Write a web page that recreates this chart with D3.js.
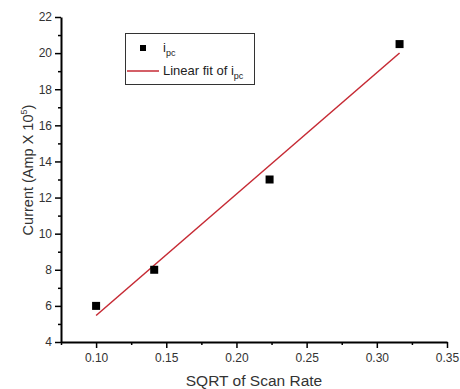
<!DOCTYPE html>
<html>
<head>
<meta charset="utf-8">
<script src="https://cdn.jsdelivr.net/npm/d3@7"></script>
<style>
  body { margin: 0; background: #fff; }
  svg { display: block; font-family: "Liberation Sans", Arial, sans-serif; }
</style>
</head>
<body>
<div id="chart"></div>
<script>
// scan rate data (sqrt) vs cathodic peak current
const sqrtRate = [0.1, 0.1414, 0.2236, 0.3162];
const ipc = [6, 8, 13, 20.5];
const xTicks = [0.10, 0.15, 0.20, 0.25, 0.30, 0.35];
const yTicks = [4, 6, 8, 10, 12, 14, 16, 18, 20, 22];

const width = 460, height = 389;
const margin = { left: 61, right: 13, top: 17, bottom: 47 };

const svg = d3.select('#chart').append('svg')
  .attr('width', width)
  .attr('height', height);

const x = d3.scaleLinear().domain([0.075, 0.35]).range([margin.left, width - margin.right]);
const y = d3.scaleLinear().domain([4, 22]).range([height - margin.bottom, margin.top]);

// least squares fit
const mx = d3.mean(sqrtRate), my = d3.mean(ipc);
const slope = d3.sum(sqrtRate, (v, i) => (v - mx) * (ipc[i] - my)) / d3.sum(sqrtRate, v => (v - mx) ** 2);
const icpt = my - slope * mx;
const fitX = d3.extent(sqrtRate);

// minor ticks first
const xMinor = d3.range(0.075, 0.3501, 0.025).filter(v => !xTicks.some(t => Math.abs(t - v) < 1e-6));
const yMinor = d3.range(5, 22, 2);

svg.append('g')
  .attr('transform', `translate(0,${height - margin.bottom})`)
  .call(d3.axisBottom(x).tickValues(xMinor).tickSize(3).tickFormat(''))
  .call(g => g.select('.domain').remove());
svg.append('g')
  .attr('transform', `translate(${margin.left},0)`)
  .call(d3.axisLeft(y).tickValues(yMinor).tickSize(3).tickFormat(''))
  .call(g => g.select('.domain').remove());

const xAxis = svg.append('g')
  .attr('transform', `translate(0,${height - margin.bottom})`)
  .call(d3.axisBottom(x).tickValues(xTicks).tickSize(6).tickSizeOuter(0).tickFormat(d3.format('.2f')));
const yAxis = svg.append('g')
  .attr('transform', `translate(${margin.left},0)`)
  .call(d3.axisLeft(y).tickValues(yTicks).tickSize(6).tickSizeOuter(0));

svg.selectAll('.domain').attr('stroke', '#000').attr('stroke-width', 2);
svg.selectAll('.tick line').attr('stroke', '#000').attr('stroke-width', 1.5);
xAxis.selectAll('text').attr('font-size', 12).attr('fill', '#333').attr('dy', '0.95em');
yAxis.selectAll('text').attr('font-size', 12).attr('fill', '#333');

// axis titles
svg.append('text')
  .attr('x', 254).attr('y', 386)
  .attr('text-anchor', 'middle')
  .attr('font-size', 15.5).attr('fill', '#333')
  .text('SQRT of Scan Rate');

const yt = svg.append('text')
  .attr('transform', 'translate(33,170) rotate(-90)')
  .attr('text-anchor', 'middle')
  .attr('font-size', 14.5).attr('fill', '#333');
yt.append('tspan').text('Current (Amp X 10');
yt.append('tspan').attr('font-size', 9).attr('dy', -6).text('5');
yt.append('tspan').attr('dy', 6).text(')');

// fit line
svg.append('line')
  .attr('x1', x(fitX[0])).attr('y1', y(slope * fitX[0] + icpt))
  .attr('x2', x(fitX[1])).attr('y2', y(slope * fitX[1] + icpt))
  .attr('stroke', '#c62a34').attr('stroke-width', 1.5);

// points
const s = 8;
svg.selectAll('rect.pt')
  .data(sqrtRate)
  .join('rect')
  .attr('class', 'pt')
  .attr('x', d => x(d) - s / 2)
  .attr('y', (d, i) => y(ipc[i]) - s / 2)
  .attr('width', s).attr('height', s)
  .attr('fill', '#000');

// legend
const lg = svg.append('g');
lg.append('rect')
  .attr('x', 125.5).attr('y', 33.5).attr('width', 129).attr('height', 51)
  .attr('fill', '#fff').attr('stroke', '#333').attr('stroke-width', 1);
lg.append('rect').attr('x', 140).attr('y', 45).attr('width', 6).attr('height', 6).attr('fill', '#000');
lg.append('line').attr('x1', 127).attr('x2', 159).attr('y1', 71).attr('y2', 71)
  .attr('stroke', '#c62a34').attr('stroke-width', 1.5);
const l1 = lg.append('text').attr('x', 163).attr('y', 52).attr('font-size', 13).attr('fill', '#222');
l1.append('tspan').text('i');
l1.append('tspan').attr('font-size', 9).attr('dy', 4).text('pc');
const l2 = lg.append('text').attr('x', 163).attr('y', 75).attr('font-size', 13).attr('fill', '#222');
l2.append('tspan').text('Linear fit of i');
l2.append('tspan').attr('font-size', 9).attr('dy', 4).text('pc');
</script>
</body>
</html>
